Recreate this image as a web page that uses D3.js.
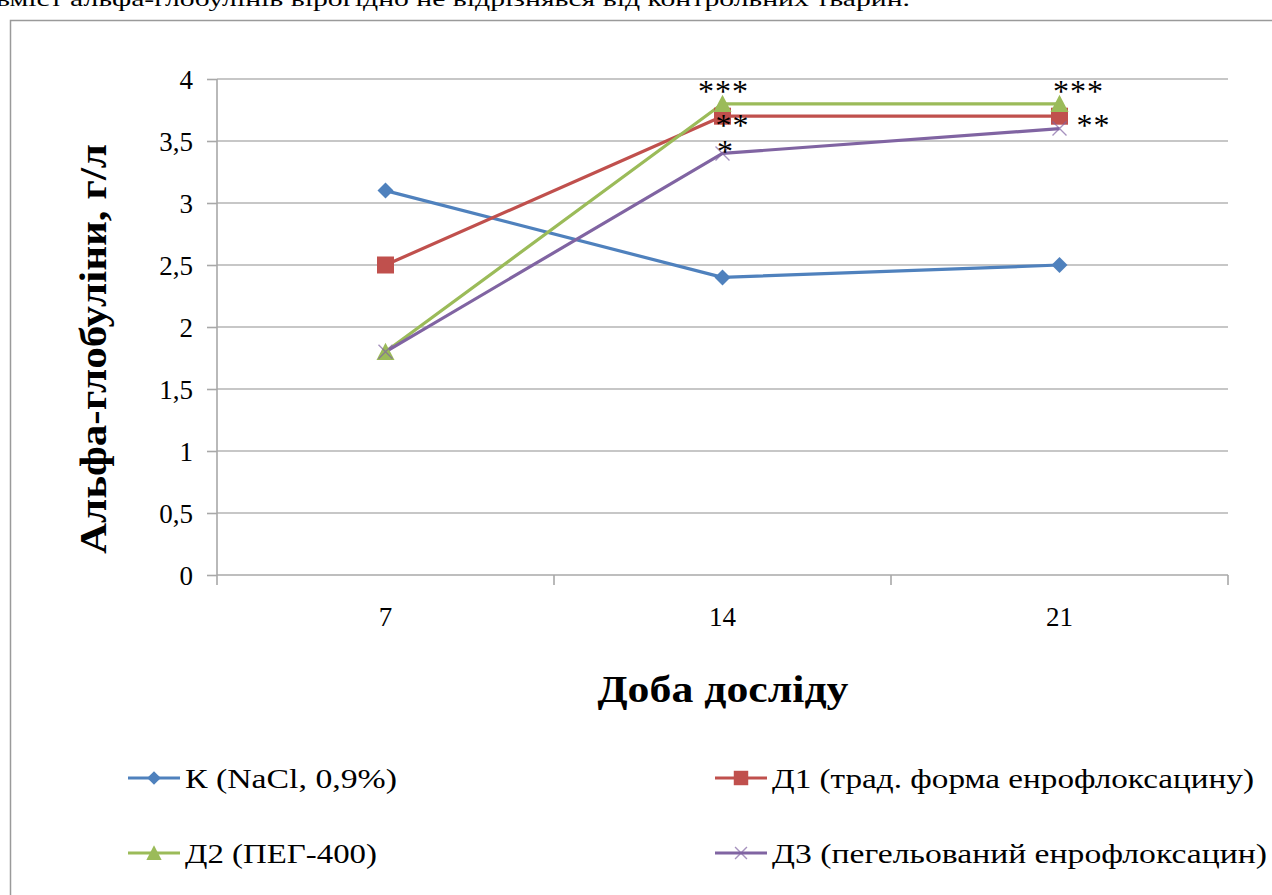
<!DOCTYPE html>
<html>
<head>
<meta charset="utf-8">
<script src="https://cdn.jsdelivr.net/npm/d3@7"></script>
<style>
  html, body { margin: 0; padding: 0; background: #fff; overflow: hidden; }
  svg { display: block; }
  svg text { font-family: "Liberation Serif", "Times New Roman", "DejaVu Serif Condensed", "DejaVu Serif", serif; }
</style>
</head>
<body>
<svg id="chart" width="1272" height="895"></svg>
<script>
// Days of the experiment (x categories)
const days = ["7", "14", "21"];
// Alpha-globulin concentration, g/l, per group
const seriesNames = [
  "К (NaCl, 0,9%)",
  "Д1 (трад. форма енрофлоксацину)",
  "Д2 (ПЕГ-400)",
  "Д3 (пегельований енрофлоксацин)"
];
const valuesK  = [3.1, 2.4, 2.5];
const valuesD1 = [2.5, 3.7, 3.7];
const valuesD2 = [1.8, 3.8, 3.8];
const valuesD3 = [1.8, 3.4, 3.6];
// Y axis ticks
const yTicks = [0, 0.5, 1, 1.5, 2, 2.5, 3, 3.5, 4];
// Significance marks: [series index, day index, label]
const marks = [
  [2, 1, "***"], [1, 1, "**"], [3, 1, "*"],
  [2, 2, "***"], [1, 2, "**"]
];
const captionText = "вміст альфа-глобулінів вірогідно не відрізнявся від контрольних тварин.";
const xTitle = "Доба досліду";
const yTitle = "Альфа-глобуліни, г/л";

const seriesValues = [valuesK, valuesD1, valuesD2, valuesD3];
const colors = ["#4F81BD", "#C0504D", "#9BBB59", "#8064A2"];
const shapes = ["diamond", "square", "triangle", "cross"];

const svg = d3.select("#chart");

// Caption line of the surrounding text, partly cut off at the top edge
svg.append("text")
  .attr("x", -4).attr("y", 6)
  .attr("font-size", 22)
  .attr("textLength", 914).attr("lengthAdjust", "spacingAndGlyphs")
  .attr("fill", "#000")
  .text(captionText);

// Chart frame
svg.append("rect")
  .attr("x", 10.5).attr("y", 20.5)
  .attr("width", 1300).attr("height", 900)
  .attr("fill", "#fff").attr("stroke", "#9a9a9a").attr("stroke-width", 1.5);

const plot = { left: 217, right: 1228, top: 79, bottom: 575 };

const x = d3.scaleBand().domain(days).range([plot.left, plot.right]).padding(0);
const y = d3.scaleLinear().domain([0, 4]).range([plot.bottom, plot.top]);
const cx = d => x(d) + x.bandwidth() / 2;

// Gridlines
svg.append("g")
  .selectAll("line").data(yTicks.filter(t => t > 0)).join("line")
  .attr("x1", plot.left).attr("x2", plot.right)
  .attr("y1", d => y(d)).attr("y2", d => y(d))
  .attr("stroke", "#b4b4b4").attr("stroke-width", 1.6);

// Y axis
const yAxis = d3.axisLeft(y).tickValues(yTicks).tickSize(10).tickPadding(14)
  .tickFormat(d => String(d).replace(".", ","));
const gy = svg.append("g").attr("transform", `translate(${plot.left},0)`).call(yAxis);
gy.attr("font-family", null).attr("font-size", null);
gy.select(".domain").attr("stroke", "#a8a8a8").attr("stroke-width", 1.6)
  .attr("d", `M0,${plot.top}V${plot.bottom}`);
gy.selectAll(".tick line").attr("stroke", "#a8a8a8").attr("stroke-width", 1.6);
gy.selectAll(".tick text").attr("font-size", 27).attr("fill", "#000").attr("dy", "0.34em");

// X axis with ticks on category boundaries
const gx = svg.append("g").attr("transform", `translate(0,${plot.bottom})`);
gx.append("line").attr("x1", plot.left).attr("x2", plot.right)
  .attr("stroke", "#a8a8a8").attr("stroke-width", 1.6);
const bounds = days.map(d => x(d)).concat([plot.right]);
gx.selectAll("line.tk").data(bounds).join("line").attr("class", "tk")
  .attr("x1", d => d).attr("x2", d => d).attr("y1", 0).attr("y2", 10)
  .attr("stroke", "#a8a8a8").attr("stroke-width", 1.6);
gx.selectAll("text").data(days).join("text")
  .attr("x", d => cx(d)).attr("y", 51)
  .attr("text-anchor", "middle").attr("font-size", 27).attr("fill", "#000")
  .text(d => d);

// Axis titles
svg.append("text")
  .attr("x", 723).attr("y", 702)
  .attr("text-anchor", "middle").attr("font-size", 38).attr("font-weight", "bold")
  .attr("textLength", 251).attr("lengthAdjust", "spacingAndGlyphs")
  .text(xTitle);
svg.append("text")
  .attr("transform", "translate(106,349) rotate(-90)")
  .attr("text-anchor", "middle").attr("font-size", 38).attr("font-weight", "bold")
  .attr("textLength", 410).attr("lengthAdjust", "spacingAndGlyphs")
  .text(yTitle);

// Marker drawing
function drawMarker(g, shape, color, px, py, k = 1) {
  if (shape === "diamond") {
    const r = 8 * k;
    g.append("path").attr("d", `M${px},${py - r}L${px + r},${py}L${px},${py + r}L${px - r},${py}Z`)
      .attr("fill", color);
  } else if (shape === "square") {
    const r = 8.5 * k;
    g.append("rect").attr("x", px - r).attr("y", py - r).attr("width", 2 * r).attr("height", 2 * r)
      .attr("fill", color);
  } else if (shape === "triangle") {
    const r = 9 * k;
    g.append("path").attr("d", `M${px},${py - r}L${px + r},${py + r * 0.9}L${px - r},${py + r * 0.9}Z`)
      .attr("fill", color);
  } else {
    const r = 7 * k;
    g.append("path").attr("d", `M${px - r},${py - r}L${px + r},${py + r}M${px + r},${py - r}L${px - r},${py + r}`)
      .attr("stroke", color).attr("stroke-opacity", 0.7).attr("stroke-width", 1.4).attr("fill", "none");
  }
}

const line = d3.line().x((v, i) => cx(days[i])).y(v => y(v));
const gSeries = svg.append("g");
seriesValues.forEach((vals, s) => {
  gSeries.append("path").datum(vals).attr("d", line)
    .attr("fill", "none").attr("stroke", colors[s]).attr("stroke-width", 3.2)
    .attr("stroke-linejoin", "round");
});
seriesValues.forEach((vals, s) => {
  const g = gSeries.append("g");
  vals.forEach((v, i) => drawMarker(g, shapes[s], colors[s], cx(days[i]), y(v)));
});

// Significance labels placed next to their points
const markOffset = {
  "2,1": [1, -2], "1,1": [10, 20], "3,1": [3, 9],
  "2,2": [19, -2], "1,2": [34, 20]
};
svg.append("g").selectAll("text").data(marks).join("text")
  .attr("x", d => cx(days[d[1]]) + markOffset[d[0] + "," + d[1]][0])
  .attr("y", d => y(seriesValues[d[0]][d[1]]) + markOffset[d[0] + "," + d[1]][1])
  .attr("text-anchor", "middle").attr("font-size", 32).attr("fill", "#000")
  .attr("letter-spacing", 1)
  .text(d => d[2]);

// Legend
const legendPos = [[128, 778], [715, 778], [128, 853], [715, 853]];
const legendLen = [212, 482, 192, 495];
const gl = svg.append("g");
seriesNames.forEach((name, s) => {
  const [lx, ly] = legendPos[s];
  gl.append("line").attr("x1", lx).attr("x2", lx + 52).attr("y1", ly).attr("y2", ly)
    .attr("stroke", colors[s]).attr("stroke-width", 3.2);
  drawMarker(gl, shapes[s], colors[s], lx + 26, ly, 0.85);
  gl.append("text").attr("x", lx + 57).attr("y", ly + 10)
    .attr("font-size", 27).attr("fill", "#000")
    .attr("textLength", legendLen[s]).attr("lengthAdjust", "spacingAndGlyphs")
    .text(name);
});
</script>
</body>
</html>
